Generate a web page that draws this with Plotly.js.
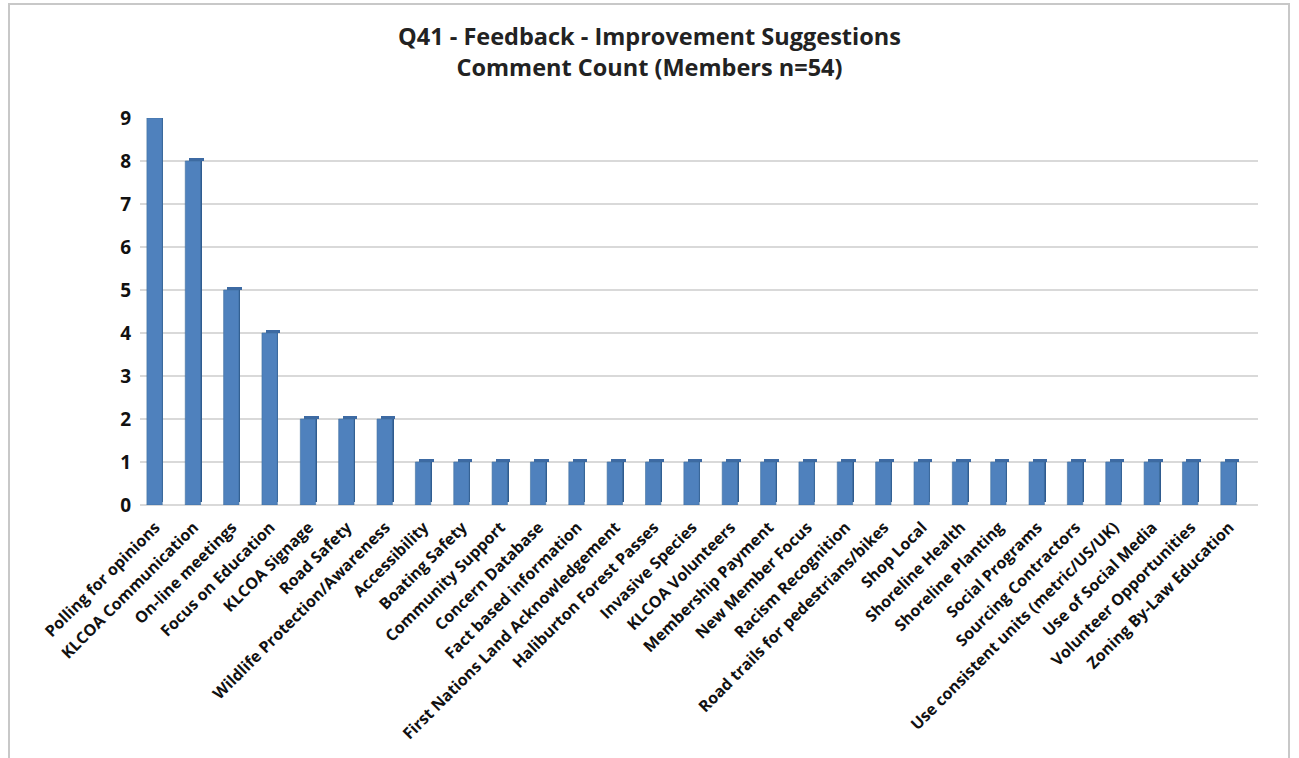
<!DOCTYPE html>
<html>
<head>
<meta charset="utf-8">
<script src="https://cdn.plot.ly/plotly-3.0.1.min.js"></script>
<style>
  html, body { margin: 0; padding: 0; background: #fff; }
  #chart { width: 1299px; height: 758px; position: absolute; left: 0; top: 0; }
  #frame { position: absolute; left: 8px; top: 3px; width: 1282px; height: 770px; border: 2px solid #c8c8c8; box-sizing: border-box; pointer-events: none; }
</style>
</head>
<body>
<div id="chart"></div>
<div id="frame"></div>
<script>
const categories = [
  "Polling for opinions", "KLCOA Communication", "On-line meetings", "Focus on Education",
  "KLCOA Signage", "Road Safety", "Wildlife Protection/Awareness", "Accessibility",
  "Boating Safety", "Community Support", "Concern Database", "Fact based information",
  "First Nations Land Acknowledgement", "Haliburton Forest Passes", "Invasive Species",
  "KLCOA Volunteers", "Membership Payment", "New Member Focus", "Racism Recognition",
  "Road trails for pedestrians/bikes", "Shop Local", "Shoreline Health", "Shoreline Planting",
  "Social Programs", "Sourcing Contractors", "Use consistent units (metric/US/UK)",
  "Use of Social Media", "Volunteer Opportunities", "Zoning By-Law Education"
];
const commentCounts = [9, 8, 5, 4, 2, 2, 2, 1, 1, 1, 1, 1, 1, 1, 1, 1, 1, 1, 1, 1, 1, 1, 1, 1, 1, 1, 1, 1, 1];
const yTicks = [0, 1, 2, 3, 4, 5, 6, 7, 8, 9];

const depth = 0.06; // visual 3D lift of side/top faces (in value units)
const FONT = '"Open Sans", Lato, sans-serif';

const idx = categories.map((c, i) => i);

const sideFace = {
  type: 'bar',
  x: idx,
  y: commentCounts.map(v => v),
  base: commentCounts.map(() => depth),
  width: 0.18,
  offset: 0.03,
  marker: { color: '#2f5b8f', line: { width: 0 } },
  hoverinfo: 'skip',
  showlegend: false
};
const topFace = {
  type: 'bar',
  x: idx,
  y: commentCounts.map(() => depth),
  base: commentCounts,
  width: 0.38,
  offset: -0.12,
  marker: { color: '#3d6aa3', line: { width: 0 } },
  hoverinfo: 'skip',
  showlegend: false
};
const front = {
  type: 'bar',
  x: idx,
  y: commentCounts,
  width: 0.4,
  offset: -0.22,
  marker: { color: '#4f81bd', line: { color: '#41709f', width: 0.6 } },
  showlegend: false
};

const layout = {
  width: 1299, height: 758,
  paper_bgcolor: '#ffffff', plot_bgcolor: '#ffffff',
  margin: { l: 140, r: 41, t: 118, b: 253 },
  title: {
    text: 'Q41 - Feedback - Improvement Suggestions<br>Comment Count (Members n=54)',
    font: { family: FONT, size: 23.5, color: '#222', weight: 'bold' },
    x: 0.5, xanchor: 'center', yref: 'container', y: 0.94, yanchor: 'middle'
  },
  barmode: 'overlay',
  bargap: 0,
  xaxis: {
    range: [-0.4, 28.75],
    tickmode: 'array',
    tickvals: idx,
    ticktext: categories,
    tickangle: -45,
    tickfont: { family: FONT, size: 16, color: '#111', weight: 'bold' },
    showgrid: false, zeroline: false, showline: false, ticks: '',
    ticklabelstandoff: 9,
    fixedrange: true
  },
  yaxis: {
    range: [0, 9],
    tickmode: 'array',
    tickvals: yTicks,
    ticktext: yTicks.map(String),
    tickfont: { family: FONT, size: 19, color: '#111', weight: 'bold' },
    showgrid: true, gridcolor: '#d9d9d9', gridwidth: 1.5,
    zeroline: true, zerolinecolor: '#d9d9d9', zerolinewidth: 1.5,
    showline: false, ticks: '', ticklabelstandoff: 8,
    fixedrange: true
  }
};

Plotly.newPlot('chart', [sideFace, topFace, front], layout, { displayModeBar: false, staticPlot: true });
</script>
</body>
</html>
